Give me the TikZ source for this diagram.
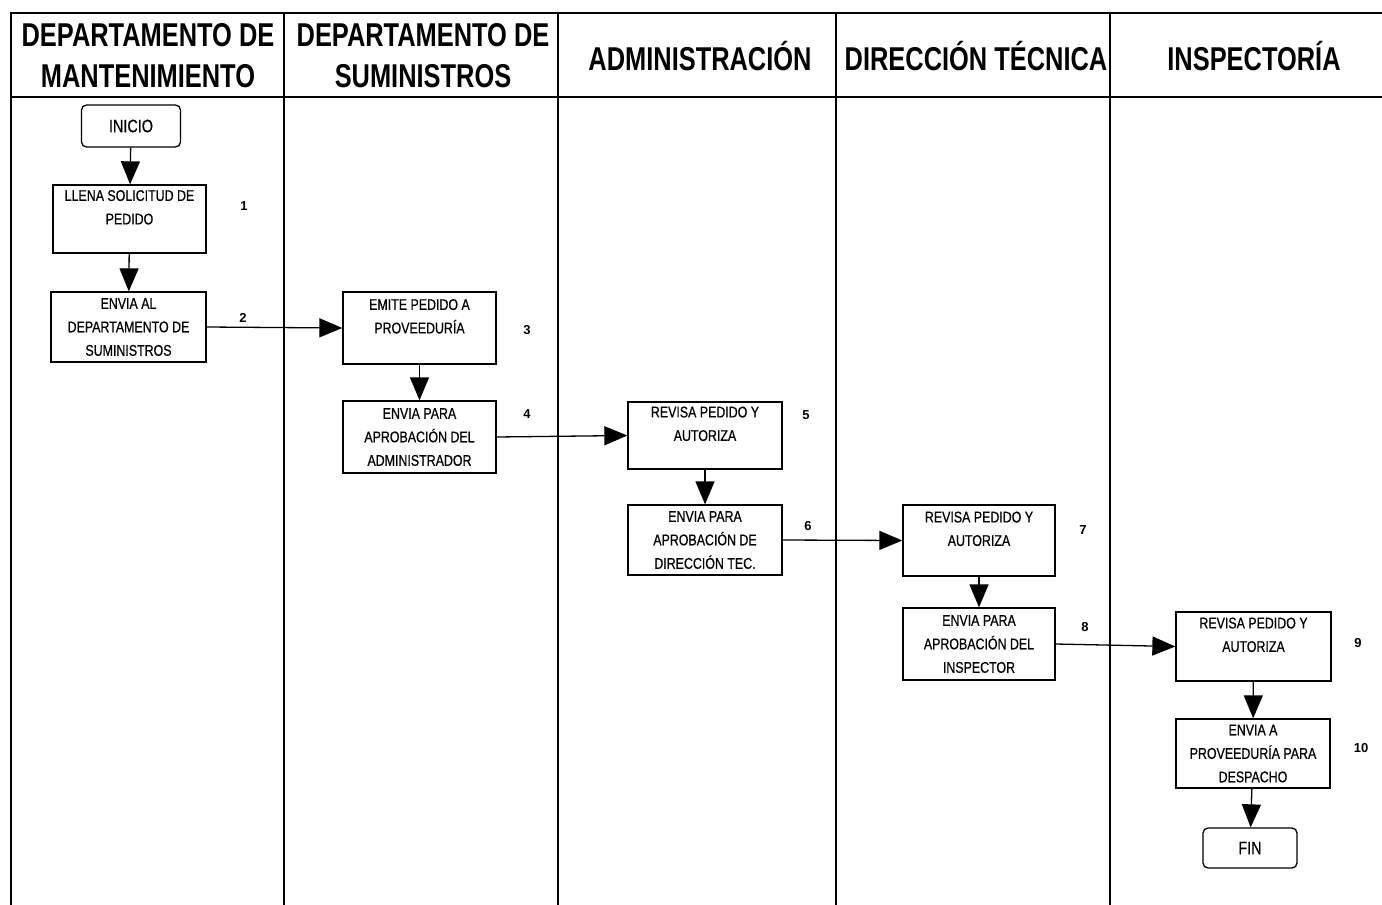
\documentclass[tikz,border=0pt]{standalone}
\usepackage{fontspec}
\setmainfont{Liberation Sans}
\newfontfamily\hdrfont{Liberation Sans}[FakeStretch=0.77]
\newfontfamily\boxfont{Liberation Sans}[FakeStretch=0.8, FakeBold=0.6]
\usetikzlibrary{arrows.meta}

\begin{document}
\begin{tikzpicture}[x=1pt,y=-1pt,
  lane/.style={line width=1.3pt},
  hdr/.style={font=\hdrfont\bfseries\fontsize{33}{41}\selectfont, align=center, inner sep=0pt},
  proc/.style={draw, line width=1.3pt, minimum width=153pt, minimum height=70pt,
    align=center, inner sep=0pt, font=\boxfont\fontsize{15.5}{23.5}\selectfont},
  term/.style={proc, rounded corners=5pt, minimum width=99pt, minimum height=42pt,
    font=\boxfont\fontsize{18}{22}\selectfont},
  num/.style={font=\bfseries\fontsize{13}{15}\selectfont, inner sep=0pt},
  flow/.style={line width=1.3pt, -{Triangle[length=23pt,width=19pt]}}
]
\useasboundingbox (0,0) rectangle (1382,905);

% swimlane grid
\draw[lane] (11,905) -- (11,13) -- (1382,13);
\draw[lane] (11,97) -- (1382,97);
\foreach \x in {284,558,836,1110}
  \draw[lane] (\x,13) -- (\x,905);

% lane headings
\node[hdr] (h1) at (148,56) {DEPARTAMENTO DE\\MANTENIMIENTO};
\node[hdr] (h2) at (423,56) {DEPARTAMENTO DE\\SUMINISTROS};
\node[hdr] (h3) at (700,56) {ADMINISTRACIÓN};
\node[hdr] (h4) at (976,56) {DIRECCIÓN TÉCNICA};
\node[hdr] (h5) at (1254,56) {INSPECTORÍA};

% steps (two-line texts sit in the upper part of their box)
\node[term] (ini) at (131,126) {INICIO};
\node[proc, minimum height=68pt] (b1) at (129.5,219) {LLENA SOLICITUD DE\\PEDIDO\\\mbox{}};
\node[proc, minimum width=155pt] (b2) at (128.5,327) {ENVIA AL\\DEPARTAMENTO DE\\SUMINISTROS};
\node[proc, minimum height=72pt] (b3) at (419.5,328) {EMITE PEDIDO A\\PROVEEDURÍA\\\mbox{}};
\node[proc, minimum height=72pt] (b4) at (419.5,437) {ENVIA PARA\\APROBACIÓN DEL\\ADMINISTRADOR};
\node[proc, minimum width=154pt, minimum height=67pt] (b5) at (705,435.5) {REVISA PEDIDO Y\\AUTORIZA\\\mbox{}};
\node[proc, minimum width=154pt] (b6) at (705,540) {ENVIA PARA\\APROBACIÓN DE\\DIRECCIÓN TEC.};
\node[proc, minimum width=152pt, minimum height=71pt] (b7) at (979,540.5) {REVISA PEDIDO Y\\AUTORIZA\\\mbox{}};
\node[proc, minimum width=152pt, minimum height=72pt] (b8) at (979,644) {ENVIA PARA\\APROBACIÓN DEL\\INSPECTOR};
\node[proc, minimum width=155pt, minimum height=69pt] (b9) at (1253.5,646.5) {REVISA PEDIDO Y\\AUTORIZA\\\mbox{}};
\node[proc, minimum width=154pt, minimum height=69pt] (b10) at (1253,753.5) {ENVIA A\\PROVEEDURÍA PARA\\DESPACHO};
\node[term, minimum width=94pt, minimum height=40pt] (fin) at (1250,848) {FIN};

% step numbers
\node[num] (n1) at (244,206) {1};
\node[num] (n2) at (243,318) {2};
\node[num] (n3) at (527,330) {3};
\node[num] (n4) at (527,414) {4};
\node[num] (n5) at (806,415) {5};
\node[num] (n6) at (808,526) {6};
\node[num] (n7) at (1083,530) {7};
\node[num] (n8) at (1085,627) {8};
\node[num] (n9) at (1358,643) {9};
\node[num] (n10) at (1361,748) {10};

% flow
\draw[flow] (ini) -- (b1);
\draw[flow] (b1) -- (b2);
\draw[flow] (b2.east) -- (b3.west);
\draw[flow] (b3) -- (b4);
\draw[flow] (b4.east) -- (b5.west);
\draw[flow] (b5) -- (b6);
\draw[flow] (b6.east) -- (b7.west);
\draw[flow] (b7) -- (b8);
\draw[flow] (b8.east) -- (b9.west);
\draw[flow] (b9) -- (b10);
\draw[flow] (b10) -- (fin);
\end{tikzpicture}
\end{document}
